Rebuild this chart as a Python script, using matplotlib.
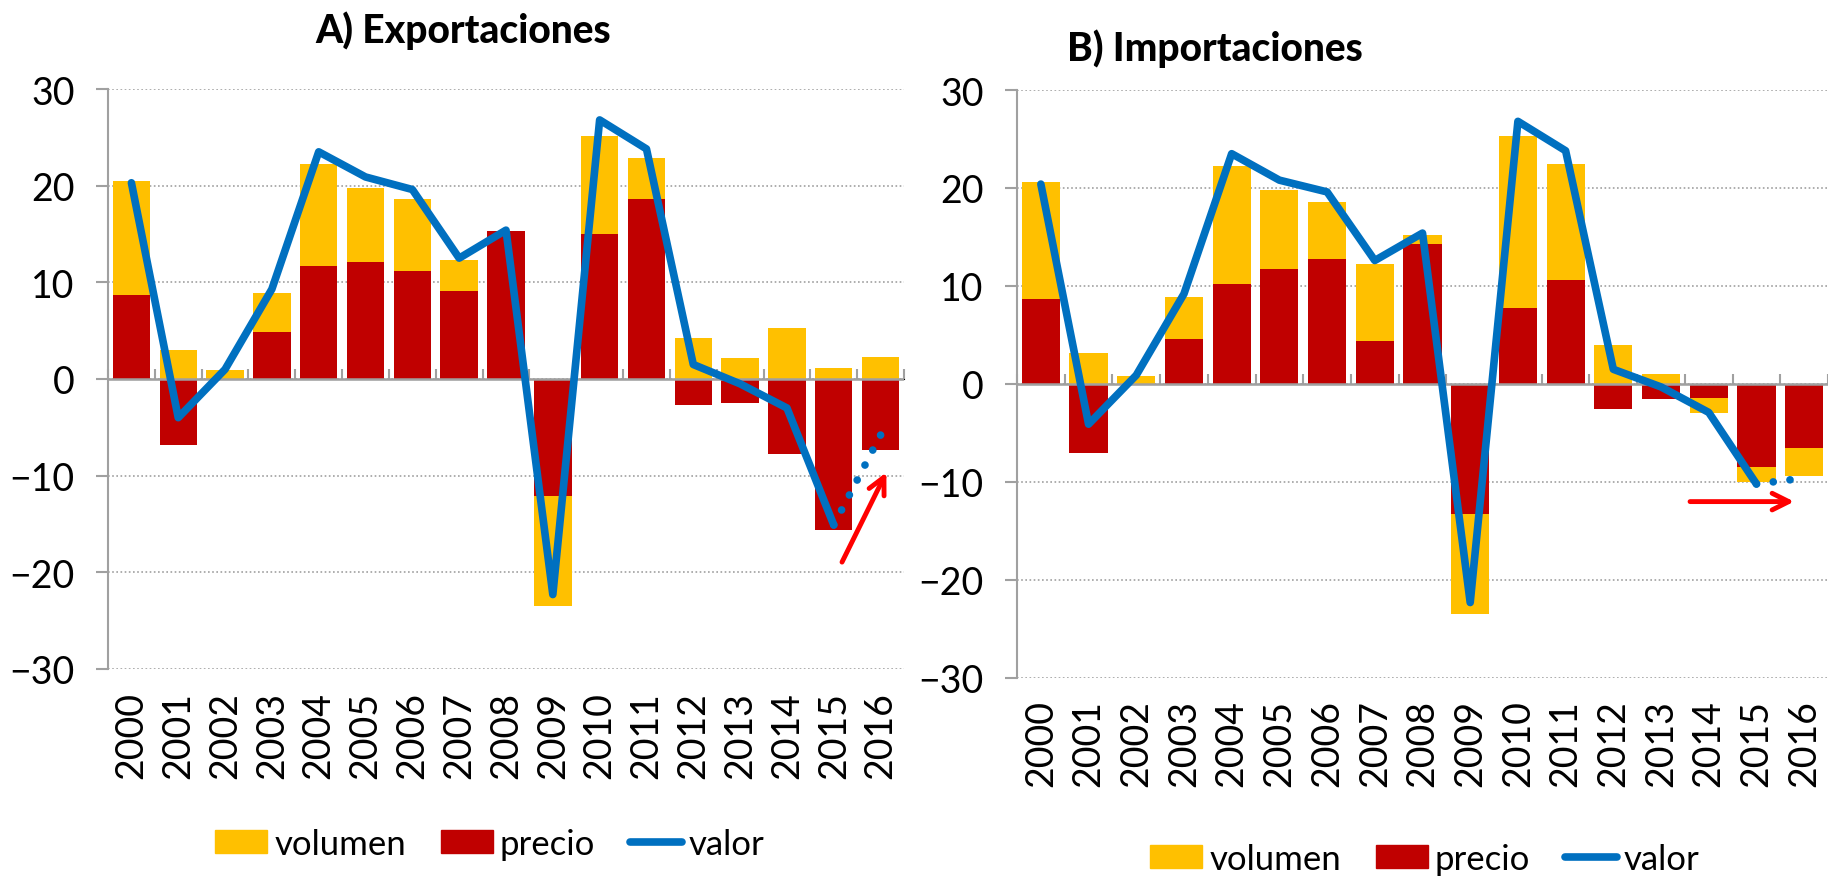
import matplotlib
matplotlib.use("Agg")
import matplotlib.pyplot as plt
from matplotlib.patches import Patch
from matplotlib.lines import Line2D
import numpy as np

plt.rcParams['font.family'] = ['Lato', 'DejaVu Sans']

## datos
anios = ['2000', '2001', '2002', '2003', '2004', '2005', '2006', '2007', '2008',
         '2009', '2010', '2011', '2012', '2013', '2014', '2015', '2016']

# A) Exportaciones
exp_precio = [8.7, -6.8, 0.0, 4.9, 11.7, 12.1, 11.2, 9.1, 15.3, -12.1, 15.0, 18.6, -2.7, -2.5, -7.8, -15.6, -7.3]
exp_volumen = [11.8, 3.0, 0.9, 4.0, 10.5, 7.7, 7.4, 3.2, 0.0, -11.4, 10.1, 4.3, 4.2, 2.2, 5.3, 1.1, 2.3]
exp_valor = [20.3, -4.0, 1.0, 9.3, 23.5, 20.9, 19.6, 12.5, 15.4, -22.3, 26.8, 23.8, 1.5, -0.5, -3.0, -15.1, -5.8]

# B) Importaciones
imp_precio = [8.7, -7.0, 0.0, 4.6, 10.2, 11.7, 12.8, 4.4, 14.3, -13.3, 7.8, 10.6, -2.6, -1.5, -1.4, -8.5, -6.5]
imp_volumen = [11.9, 3.2, 0.8, 4.3, 12.0, 8.1, 5.8, 7.8, 0.9, -10.2, 17.5, 11.8, 4.0, 1.0, -1.6, -1.5, -2.9]
imp_valor = [20.4, -4.1, 0.9, 9.2, 23.5, 20.8, 19.6, 12.6, 15.4, -22.3, 26.8, 23.8, 1.5, -0.3, -2.9, -10.2, -9.6]

# flechas (indice de anio, valor): inicio -> fin
exp_flecha = [(15.15, -19.2), (16.15, -9.4)]
imp_flecha = [(13.55, -12.0), (15.85, -12.0)]

c_vol = '#FFC000'
c_pre = '#C00000'
c_val = '#0070C0'
gris = '#A0A0A0'

fig = plt.figure(figsize=(18.28, 8.78), dpi=100)
W, H = 1828, 878


def panel(rect, precio, volumen, valor, flecha, titulo, pos_titulo, pos_leyenda, pad_x):
    ax = fig.add_axes(rect)
    x = np.arange(len(anios))
    precio = np.array(precio)
    volumen = np.array(volumen)
    # volumen se apila sobre precio si tienen el mismo signo
    base = np.where(np.sign(volumen) == np.sign(precio), precio, 0)
    ax.bar(x, precio, width=0.8, color=c_pre, zorder=2)
    ax.bar(x, volumen, bottom=base, width=0.8, color=c_vol, zorder=2)
    ax.axhline(0, color=gris, lw=1.8, zorder=3)
    ax.plot(x[:-1], valor[:-1], color=c_val, lw=5.5, solid_joinstyle='round',
            solid_capstyle='round', zorder=4)
    ax.plot(x[-2:], valor[-2:], color=c_val, lw=5.5, linestyle=(0, (0.01, 2.2)),
            dash_capstyle='round', zorder=4)
    ax.annotate('', xy=flecha[1], xytext=flecha[0],
                arrowprops=dict(arrowstyle='->', color='#FF0000', lw=3.5,
                                mutation_scale=30), zorder=5)

    ax.set_xlim(-0.5, len(anios) - 0.5)
    ax.set_ylim(-30, 30)
    ax.set_yticks([-30, -20, -10, 0, 10, 20, 30])
    ax.set_xticks(x, anios, rotation=90)
    ax.tick_params(axis='x', length=0, labelsize=27, pad=pad_x)
    ax.tick_params(axis='y', length=9, width=1.5, color=gris, labelsize=27, pad=15)
    ax.grid(axis='y', color=gris, lw=1.2, linestyle=(0, (1, 1.5)), zorder=0)
    for s in ['top', 'right', 'bottom']:
        ax.spines[s].set_visible(False)
    ax.spines['left'].set_color(gris)
    ax.spines['left'].set_linewidth(1.5)

    # marcas entre categorias sobre el eje cero
    sec = ax.secondary_xaxis(0.5)
    bordes = np.arange(len(anios) + 1) - 0.5
    sec.set_xticks(bordes, [''] * len(bordes))
    sec.tick_params(axis='x', direction='out', length=7, width=1.5, color=gris)
    sec.spines['bottom'].set_visible(False)

    fig.text(pos_titulo[0] / W, 1 - pos_titulo[1] / H, titulo, ha='center', va='center',
             fontsize=28, fontweight='black')

    handles = [Patch(color=c_vol, label='volumen'), Patch(color=c_pre, label='precio'),
               Line2D([], [], color=c_val, lw=5.5, solid_capstyle='round', label='valor')]
    ax.legend(handles=handles, loc='center', ncol=3, frameon=False, fontsize=25,
              handlelength=1.5, handleheight=0.65, handletextpad=0.2, columnspacing=1.0,
              bbox_to_anchor=(pos_leyenda[0] / W, 1 - pos_leyenda[1] / H),
              bbox_transform=fig.transFigure)
    return ax


panel([108 / W, 1 - 670 / H, (904 - 108) / W, (670 - 90) / H],
      exp_precio, exp_volumen, exp_valor, exp_flecha,
      'A) Exportaciones', (463, 31), (490, 845), 16)
panel([1017 / W, 1 - 679 / H, (1828 - 1017) / W, (679 - 91) / H],
      imp_precio, imp_volumen, imp_valor, imp_flecha,
      'B) Importaciones', (1215, 49), (1425, 860), 15)

fig.savefig('out.png', dpi=100)
